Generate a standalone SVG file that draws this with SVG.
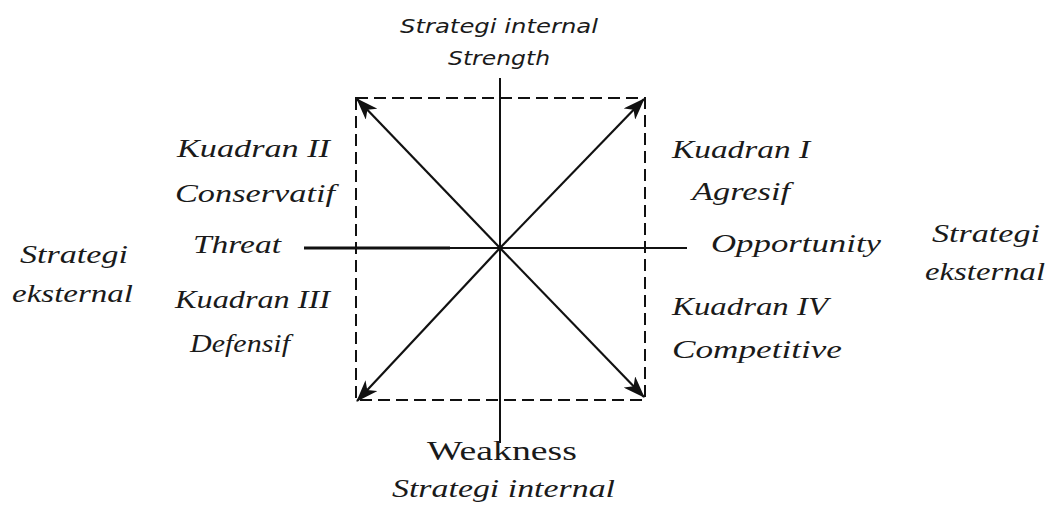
<svg xmlns="http://www.w3.org/2000/svg" width="1058" height="509" viewBox="0 0 1058 509">
<style>
.ser{font-family:"Liberation Serif",serif;font-style:italic;font-size:25px;fill:#1a1a1a}
.up{font-family:"Liberation Serif",serif;font-size:28px;fill:#1a1a1a}
.sans{font-family:"DejaVu Sans",sans-serif;font-style:italic;font-size:19px;fill:#1a1a1a}
.ax{stroke:#111;stroke-width:2;fill:none}
.dash{stroke:#111;stroke-width:2;fill:none;stroke-dasharray:12 6}
.arr{stroke:#111;stroke-width:2.2;fill:none;marker-end:url(#ah)}
</style>
<defs>
<marker id="ah" viewBox="0 0 22 16" refX="21" refY="8" markerWidth="22" markerHeight="16" markerUnits="userSpaceOnUse" orient="auto">
<path d="M0,0 L22,8 L0,16 L6,8 Z" fill="#111"/>
</marker>
</defs>
<rect width="1058" height="509" fill="#fff"/>
<g id="connectors">
<rect class="dash" x="356" y="98" width="289" height="302"/>
<line class="ax" x1="500" y1="78" x2="500" y2="443"/>
<line class="ax" x1="450" y1="248" x2="687" y2="248"/>
<line class="ax" x1="304" y1="248" x2="450" y2="248" style="stroke-width:3"/>
<line class="arr" x1="500" y1="248" x2="357" y2="99"/>
<line class="arr" x1="500" y1="248" x2="644" y2="99"/>
<line class="arr" x1="500" y1="248" x2="357" y2="401"/>
<line class="arr" x1="500" y1="248" x2="644" y2="397"/>
</g>
<g id="top-label">
<text class="sans" x="400" y="33" textLength="198" lengthAdjust="spacingAndGlyphs">Strategi internal</text>
<text class="sans" x="448" y="65" textLength="102" lengthAdjust="spacingAndGlyphs">Strength</text>
</g>
<g id="quadrant-2">
<text class="ser" x="177" y="157" textLength="153" lengthAdjust="spacingAndGlyphs">Kuadran II</text>
<text class="ser" x="175" y="202" textLength="160" lengthAdjust="spacingAndGlyphs">Conservatif</text>
</g>
<g id="threat">
<text class="ser" x="193" y="253" textLength="88" lengthAdjust="spacingAndGlyphs">Threat</text>
</g>
<g id="quadrant-3">
<text class="ser" x="175" y="308" textLength="155" lengthAdjust="spacingAndGlyphs">Kuadran III</text>
<text class="ser" x="190" y="352" textLength="100" lengthAdjust="spacingAndGlyphs">Defensif</text>
</g>
<g id="quadrant-1">
<text class="ser" x="672" y="158" textLength="138" lengthAdjust="spacingAndGlyphs">Kuadran I</text>
<text class="ser" x="692" y="200" textLength="98" lengthAdjust="spacingAndGlyphs">Agresif</text>
</g>
<g id="opportunity">
<text class="ser" x="711" y="252" textLength="170" lengthAdjust="spacingAndGlyphs">Opportunity</text>
</g>
<g id="quadrant-4">
<text class="ser" x="672" y="315" textLength="156" lengthAdjust="spacingAndGlyphs">Kuadran IV</text>
<text class="ser" x="672" y="358" textLength="170" lengthAdjust="spacingAndGlyphs">Competitive</text>
</g>
<g id="bottom-label">
<text class="up" x="427" y="460" textLength="150" lengthAdjust="spacingAndGlyphs">Weakness</text>
<text class="ser" x="392" y="497" textLength="223" lengthAdjust="spacingAndGlyphs">Strategi internal</text>
</g>
<g id="left-label">
<text class="ser" x="20" y="263" textLength="108" lengthAdjust="spacingAndGlyphs">Strategi</text>
<text class="ser" x="12" y="302" textLength="121" lengthAdjust="spacingAndGlyphs">eksternal</text>
</g>
<g id="right-label">
<text class="ser" x="932" y="242" textLength="108" lengthAdjust="spacingAndGlyphs">Strategi</text>
<text class="ser" x="925" y="280" textLength="120" lengthAdjust="spacingAndGlyphs">eksternal</text>
</g>
</svg>
